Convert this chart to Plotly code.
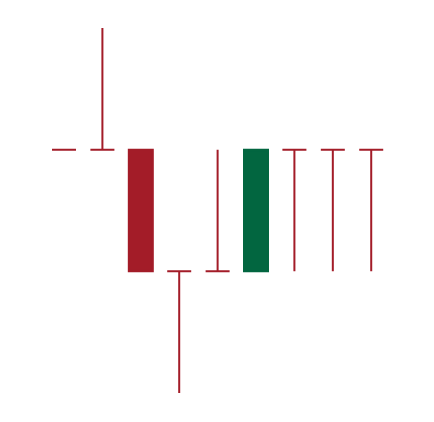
import numpy as np
import plotly.graph_objects as go

x_idx = [0, 1, 2, 3, 4, 5, 6, 7, 8]
open_ = [3, 3, 3, 2, 2, 2, 3, 3, 3]
high = [3, 4, 3, 2, 3, 3, 3, 3, 3]
low = [3, 3, 2, 1, 2, 2, 2, 2, 2]
close = [3, 3, 2, 2, 2, 3, 3, 3, 3]

RED = "#a31c28"
GREEN = "#026640"

x = np.array(x_idx)
o = np.array(open_)
h = np.array(high)
l = np.array(low)
c = np.array(close)
doji = o == c
body = ~doji

fig = go.Figure()
fig.add_trace(go.Candlestick(
    x=x[body], open=o[body], high=h[body], low=l[body], close=c[body],
    increasing=dict(line=dict(color=GREEN, width=2), fillcolor=GREEN),
    decreasing=dict(line=dict(color=RED, width=2), fillcolor=RED),
    showlegend=False, hoverinfo="skip",
))
fig.add_trace(go.Candlestick(
    x=x[doji], open=o[doji], high=h[doji], low=l[doji], close=c[doji],
    increasing=dict(line=dict(color=RED, width=2), fillcolor=RED),
    decreasing=dict(line=dict(color=RED, width=2), fillcolor=RED),
    showlegend=False, hoverinfo="skip",
))
fig.update_layout(
    width=434, height=422,
    margin=dict(l=0, r=0, t=0, b=0),
    paper_bgcolor="white", plot_bgcolor="white",
    xaxis=dict(range=[-1.667, 9.635], visible=False, rangeslider=dict(visible=False)),
    yaxis=dict(range=[0.762, 4.23], visible=False),
    boxmode="overlay",
    boxgap=0.375,
    boxgroupgap=0,
)
fig.write_html("out.html")
